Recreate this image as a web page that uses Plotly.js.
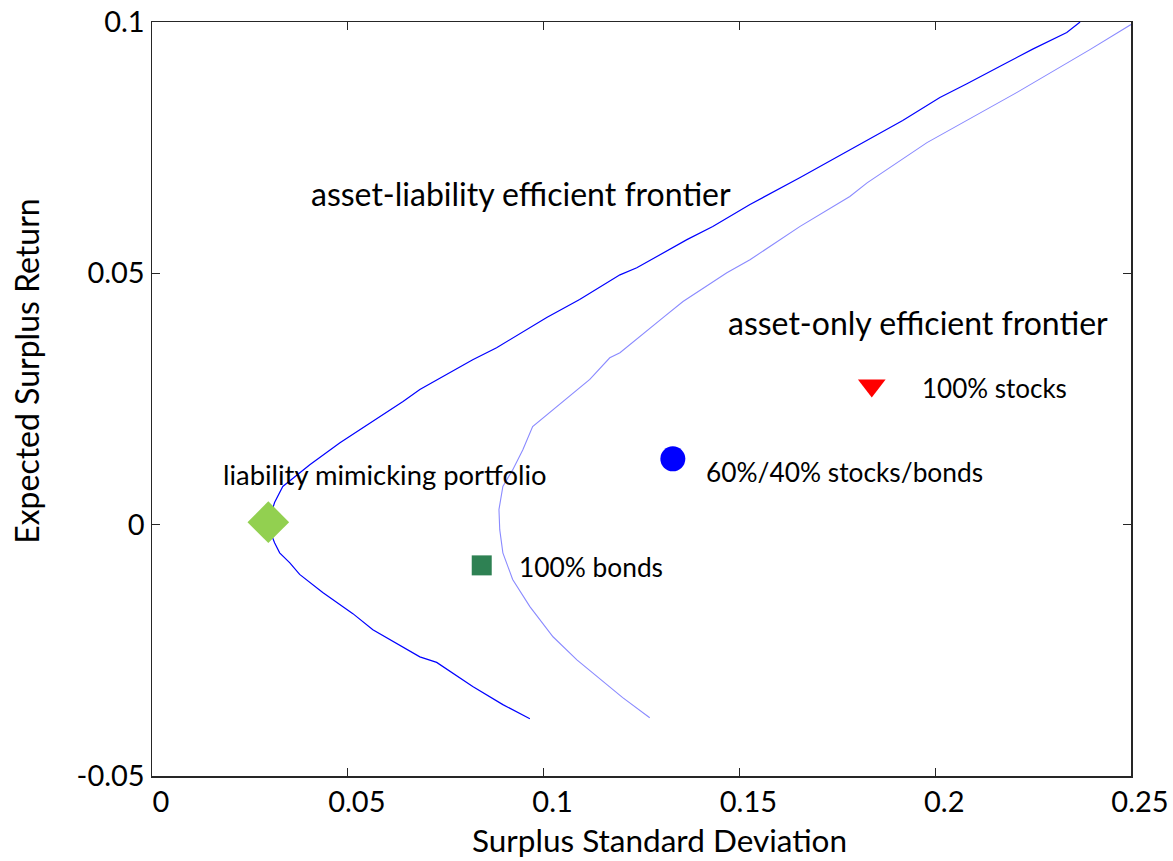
<!DOCTYPE html>
<html>
<head>
<meta charset="utf-8">
<script src="https://cdn.plot.ly/plotly-3.0.1.min.js"></script>
<style>
  html, body { margin: 0; padding: 0; background: #fff; }
  #chart { width: 1173px; height: 861px; }
</style>
</head>
<body>
<div id="chart"></div>
<script>
// Asset-liability efficient frontier (surplus std. dev., expected surplus return)
const alSigma = [0.0965, 0.0896, 0.0819, 0.0727, 0.0684, 0.0564, 0.0513, 0.0436, 0.0377, 0.0352,
  0.0326, 0.0313, 0.0295, 0.0313, 0.0334, 0.0377, 0.0403, 0.0480, 0.0523, 0.0641, 0.0684,
  0.0819, 0.0880, 0.1008, 0.1092, 0.1195, 0.1238, 0.1305, 0.1366, 0.1432, 0.1527, 0.1654,
  0.1782, 0.1917, 0.2012, 0.2081, 0.2173, 0.2249, 0.2336, 0.2370];
const alReturn = [-0.0386, -0.0358, -0.0322, -0.0274, -0.0263, -0.0209, -0.0177, -0.0135, -0.0099, -0.0076,
  -0.0056, -0.0036, 0.0000, 0.0044, 0.0076, 0.0103, 0.0119, 0.0163, 0.0185, 0.0245, 0.0269,
  0.0328, 0.0352, 0.0412, 0.0448, 0.0497, 0.0511, 0.0541, 0.0567, 0.0593, 0.0637, 0.0690,
  0.0746, 0.0804, 0.0850, 0.0877, 0.0915, 0.0946, 0.0979, 0.1000];

// Asset-only efficient frontier
const aoSigma = [0.1271, 0.1202, 0.1085, 0.1024, 0.0965, 0.0921, 0.0896, 0.0888, 0.0886, 0.0896,
  0.0921, 0.0947, 0.0972, 0.1016, 0.1049, 0.1118, 0.1169, 0.1195, 0.1305, 0.1356, 0.1468,
  0.1527, 0.1654, 0.1782, 0.1826, 0.1979, 0.2209, 0.2395, 0.2500];
const aoReturn = [-0.0384, -0.0344, -0.0269, -0.0223, -0.0163, -0.0109, -0.0056, -0.0010, 0.0030, 0.0076,
  0.0109, 0.0149, 0.0195, 0.0223, 0.0245, 0.0289, 0.0332, 0.0342, 0.0412, 0.0444, 0.0501,
  0.0527, 0.0593, 0.0653, 0.0680, 0.0760, 0.0860, 0.0945, 0.0995];

// Individual portfolios
const portfolioNames = ['liability mimicking portfolio', '100% bonds', '60%/40% stocks/bonds', '100% stocks'];
const portfolioSigma = [0.0297, 0.0842, 0.1330, 0.1838];
const portfolioReturn = [0.0005, -0.0081, 0.0131, 0.0277];

// Axis ticks and titles
const xTickVals = [0, 0.05, 0.1, 0.15, 0.2, 0.25];
const xTickText = ['0', '0.05', '0.1', '0.15', '0.2', '0.25'];
const yTickVals = [-0.05, 0, 0.05, 0.1];
const yTickText = ['-0.05', '0', '0.05', '0.1'];
const xTitle = 'Surplus Standard Deviation';
const yTitle = 'Expected Surplus Return';

const FONT = 'Lato, "Open Sans", sans-serif';

const portfolioStyles = [
  { symbol: 'diamond', size: 32, color: '#92D050' },
  { symbol: 'square', size: 20, color: '#2E8153' },
  { symbol: 'circle', size: 25, color: '#0000FF' },
  { symbol: 'triangle-down', size: 24, color: '#FF0000' }
];

const traces = [
  {
    x: alSigma, y: alReturn, type: 'scatter', mode: 'lines',
    line: { color: '#0000FF', width: 1.2 }, hoverinfo: 'skip'
  },
  {
    x: aoSigma, y: aoReturn, type: 'scatter', mode: 'lines',
    line: { color: '#8A8AFF', width: 1.1 }, hoverinfo: 'skip'
  }
];
portfolioNames.forEach((name, i) => {
  traces.push({
    x: [portfolioSigma[i]], y: [portfolioReturn[i]], type: 'scatter', mode: 'markers',
    name: name,
    marker: { symbol: portfolioStyles[i].symbol, size: portfolioStyles[i].size,
              color: portfolioStyles[i].color, line: { width: 0 } }
  });
});

const txt = size => ({ family: FONT, size: size, color: '#000' });

const annotations = [
  { text: 'asset-liability efficient frontier', x: 0.0941, y: 0.0659, xanchor: 'center', yanchor: 'middle', font: txt(32) },
  { text: 'asset-only efficient frontier', x: 0.1955, y: 0.0402, xanchor: 'center', yanchor: 'middle', font: txt(32) },
  { text: portfolioNames[3], x: 0.1968, y: 0.0271, xanchor: 'left', yanchor: 'middle', xshift: -3, font: txt(26) },
  { text: portfolioNames[2], x: 0.1416, y: 0.0105, xanchor: 'left', yanchor: 'middle', xshift: -3, font: txt(26.3) },
  { text: portfolioNames[0], x: 0.0595, y: 0.0100, xanchor: 'center', yanchor: 'middle', font: txt(27.4) },
  { text: portfolioNames[1], x: 0.0939, y: -0.0085, xanchor: 'left', yanchor: 'middle', xshift: -3, font: txt(26.3) }
].map(a => Object.assign({ xref: 'x', yref: 'y', showarrow: false }, a));

// Axis titles sit slightly off-centre, so they are placed as paper annotations
annotations.push(
  { text: xTitle, xref: 'x', yref: 'paper', x: 0.1295, y: -0.0855, xanchor: 'center', yanchor: 'middle',
    showarrow: false, font: txt(31.5) },
  { text: yTitle, xref: 'paper', yref: 'paper', x: -0.1290, y: 0.537, xanchor: 'center', yanchor: 'middle',
    textangle: -90, showarrow: false, font: txt(32) }
);

const axisCommon = {
  showgrid: false, zeroline: false,
  showline: true, linecolor: '#262626', linewidth: 1.5, mirror: 'ticks',
  ticks: 'inside', ticklen: 8, tickwidth: 1, tickcolor: '#262626',
  tickfont: { family: FONT, size: 29, color: '#000' },
  tickmode: 'array'
};

const layout = {
  width: 1173, height: 861,
  margin: { l: 152, r: 42, t: 22, b: 85, pad: 0 },
  paper_bgcolor: '#fff', plot_bgcolor: '#fff',
  showlegend: false,
  font: { family: FONT, color: '#000' },
  xaxis: Object.assign({}, axisCommon, {
    range: [0, 0.25], tickvals: xTickVals, ticktext: xTickText, ticklabelshift: 9
  }),
  yaxis: Object.assign({}, axisCommon, {
    range: [-0.05, 0.1], tickvals: yTickVals, ticktext: yTickText
  }),
  annotations: annotations
};

Plotly.newPlot('chart', traces, layout, { staticPlot: true, displayModeBar: false });
</script>
</body>
</html>
